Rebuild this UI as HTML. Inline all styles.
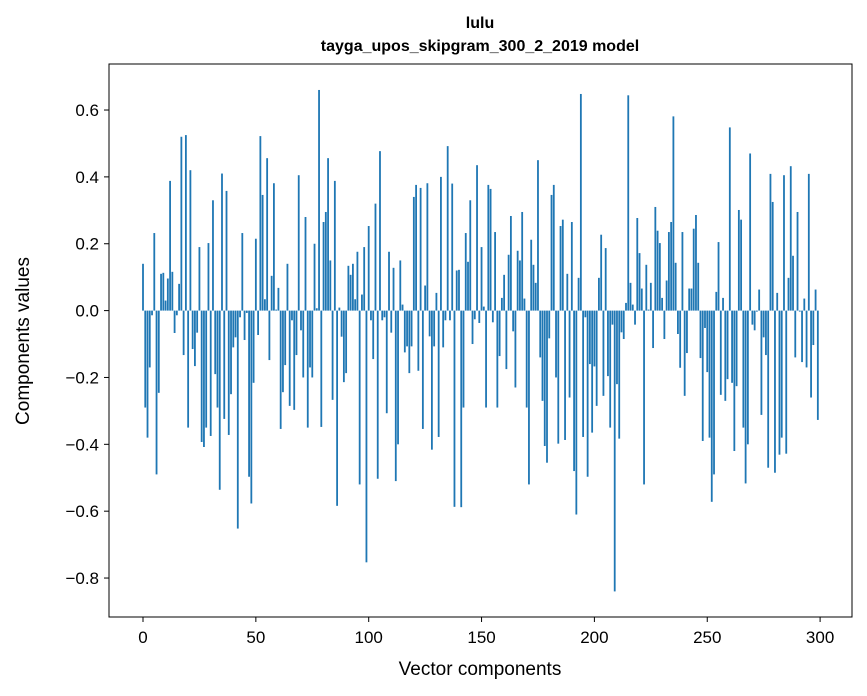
<!DOCTYPE html>
<html><head><meta charset="utf-8"><style>
body{margin:0;background:#fff}
svg{display:block;font-family:"Liberation Sans",sans-serif}
</style></head><body>
<svg id="chart" width="867" height="696" viewBox="0 0 867 696" xmlns="http://www.w3.org/2000/svg">
<rect width="867" height="696" fill="#fff"/>
<text x="480" y="28" text-anchor="middle" font-weight="bold" font-size="16">lulu</text>
<text x="480" y="51" text-anchor="middle" font-weight="bold" font-size="16">tayga_upos_skipgram_300_2_2019 model</text>
<g id="bars"></g>
<g id="axes"></g>
<rect x="109" y="64" width="743" height="553" fill="none" stroke="#000" stroke-width="1"/>
<text x="480" y="675" text-anchor="middle" font-size="19">Vector components</text>
<text x="0" y="0" transform="translate(29,341) rotate(-90)" text-anchor="middle" font-size="19">Components values</text>
</svg>
<script>
const values = [0.14,-0.29,-0.38,-0.17,-0.014,0.232,-0.49,-0.246,0.11,0.113,
0.03,0.096,0.388,0.116,-0.067,-0.014,0.08,0.52,-0.133,0.525,
-0.35,0.42,-0.115,-0.166,-0.066,0.19,-0.393,-0.408,-0.35,0.202,
-0.375,0.33,-0.19,-0.29,-0.536,0.41,-0.324,0.358,-0.372,-0.25,
-0.11,-0.08,-0.652,-0.02,0.232,-0.088,-0.007,-0.497,-0.577,-0.216,
0.215,-0.073,0.522,0.346,0.034,0.456,-0.148,0.104,0.381,0.003,
0.068,-0.354,-0.244,-0.163,0.14,-0.285,-0.029,-0.297,-0.133,0.405,
-0.059,-0.2,0.28,-0.35,-0.17,-0.2,0.2,0.007,0.66,-0.348,
0.265,0.295,0.456,0.15,-0.267,0.388,-0.584,0.009,-0.078,-0.214,
-0.187,0.134,0.107,0.14,0.034,0.176,-0.52,0.048,0.19,-0.753,
0.253,-0.029,-0.145,0.32,-0.503,0.477,-0.029,-0.02,-0.307,0.176,
-0.066,0.128,-0.51,-0.40,0.15,0.018,-0.125,-0.107,-0.187,-0.107,
0.34,0.376,-0.18,0.367,-0.354,0.075,0.381,-0.077,-0.416,-0.107,
0.053,-0.378,0.4,-0.11,-0.029,0.492,-0.029,0.38,-0.587,0.12,
0.122,-0.588,-0.29,0.232,0.146,0.33,-0.1,-0.026,0.435,-0.037,
0.19,0.012,-0.29,0.376,0.364,-0.035,0.235,-0.29,-0.136,0.038,
0.107,-0.175,0.167,0.283,-0.062,-0.23,0.179,0.15,0.295,0.036,
-0.29,-0.52,0.212,0.137,0.083,0.45,-0.14,-0.27,-0.405,-0.455,
-0.083,0.346,0.376,-0.2,-0.398,0.253,0.272,-0.387,0.11,-0.26,
0.265,-0.48,-0.61,0.098,0.648,-0.378,-0.02,-0.497,-0.16,-0.365,
-0.167,-0.285,0.098,0.227,-0.255,0.187,-0.196,-0.35,-0.042,-0.84,
-0.22,-0.383,-0.065,-0.085,0.023,0.644,0.083,0.018,-0.042,0.277,
0.172,0.066,-0.52,0.137,0.003,0.083,-0.112,0.31,0.239,0.202,
0.038,-0.085,0.09,0.235,0.265,0.581,0.143,-0.07,-0.171,0.235,
-0.255,-0.127,0.066,0.066,0.245,0.286,0.143,-0.142,-0.39,-0.052,
-0.184,-0.38,-0.572,-0.49,0.056,0.205,-0.252,0.038,-0.27,-0.205,
0.548,-0.216,-0.42,-0.226,0.301,0.272,-0.35,-0.517,-0.4,0.47,
-0.042,-0.059,-0.003,0.063,-0.312,-0.08,-0.133,-0.47,0.409,0.325,
-0.485,0.053,-0.431,-0.38,0.405,-0.428,0.098,0.432,0.164,-0.14,
0.295,-0.003,-0.154,0.036,-0.17,0.409,-0.26,-0.103,0.063,-0.327];
const xTicks = [0,50,100,150,200,250,300];
const yTicks = [-0.8,-0.6,-0.4,-0.2,0.0,0.2,0.4,0.6];
const yTickLabels = ["\u22120.8","\u22120.6","\u22120.4","\u22120.2","0.0","0.2","0.4","0.6"];

const NS="http://www.w3.org/2000/svg";
function xs(v){return 143+v*2.257;}
function ys(v){return 310.6-v*334.3;}
const bars=document.getElementById('bars');
values.forEach((v,i)=>{
  const r=document.createElementNS(NS,'rect');
  const y0=ys(0), y1=ys(v);
  r.setAttribute('x',xs(i-0.4));
  r.setAttribute('width',2.257*0.8);
  r.setAttribute('y',Math.min(y0,y1));
  r.setAttribute('height',Math.abs(y1-y0));
  r.setAttribute('fill','#1f77b4');
  
  
  bars.appendChild(r);
});
const axes=document.getElementById('axes');
xTicks.forEach(t=>{
  const l=document.createElementNS(NS,'line');
  l.setAttribute('x1',xs(t));l.setAttribute('x2',xs(t));
  l.setAttribute('y1',617);l.setAttribute('y2',622);
  l.setAttribute('stroke','#000');
  
  
  axes.appendChild(l);
  const tx=document.createElementNS(NS,'text');
  tx.setAttribute('x',xs(t));tx.setAttribute('y',643);
  tx.setAttribute('text-anchor','middle');tx.setAttribute('font-size','17');
  tx.textContent=t;
  
  
  axes.appendChild(tx);
});
yTicks.forEach((t,k)=>{
  const l=document.createElementNS(NS,'line');
  l.setAttribute('x1',104);l.setAttribute('x2',109);
  l.setAttribute('y1',ys(t));l.setAttribute('y2',ys(t));
  l.setAttribute('stroke','#000');
  
  
  axes.appendChild(l);
  const tx=document.createElementNS(NS,'text');
  tx.setAttribute('x',99);tx.setAttribute('y',ys(t)+6);
  tx.setAttribute('text-anchor','end');tx.setAttribute('font-size','17');
  tx.textContent=yTickLabels[k];
  
  
  axes.appendChild(tx);
});
</script>
</body></html>
